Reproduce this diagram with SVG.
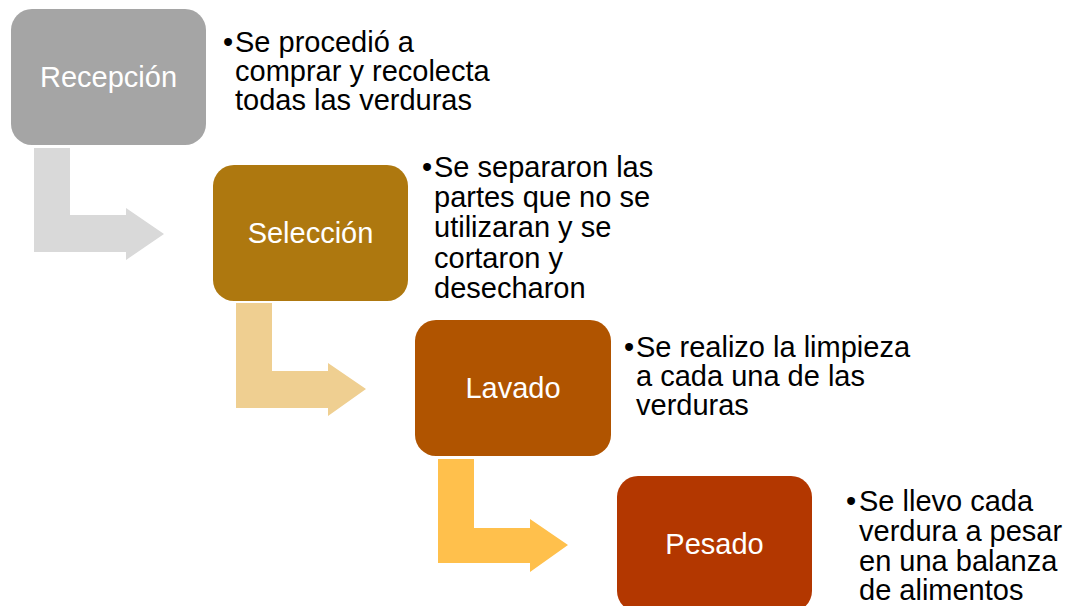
<svg xmlns="http://www.w3.org/2000/svg" width="1071" height="606" viewBox="0 0 1071 606">
  <style>
    .box { stroke: none; }
    .lbl { font-family: "Liberation Sans", Arial, sans-serif; font-size: 29px; fill: #ffffff; text-anchor: middle; }
    .txt { font-family: "Liberation Sans", Arial, sans-serif; font-size: 29px; fill: #000000; }
  </style>
  <rect width="1071" height="606" fill="#ffffff"/>
  <g id="connectors">
    <path d="M34,148 L70,148 L70,215 L126,215 L126,208 L164,234 L126,260 L126,252 L34,252 Z" fill="#d9d9d9"/>
    <path d="M236,303 L272,303 L272,371 L328,371 L328,363 L366,389 L328,416 L328,408 L236,408 Z" fill="#efcf91"/>
    <path d="M438,459 L474,459 L474,528 L530,528 L530,519 L568,545 L530,572 L530,563 L438,563 Z" fill="#ffc04c"/>
  </g>
  <g id="node-recepcion">
    <rect class="box" x="11" y="9" width="195" height="136" rx="21" fill="#a5a5a5"/>
    <text class="lbl" x="108.5" y="87">Recepción</text>
  </g>
  <g id="text-recepcion">
    <text class="txt" x="223" y="52">•</text>
    <text class="txt" x="235"><tspan x="235" y="52">Se procedió a</tspan><tspan x="235" y="81">comprar y recolecta</tspan><tspan x="235" y="110">todas las verduras</tspan></text>
  </g>
  <g id="node-seleccion">
    <rect class="box" x="213" y="165" width="195" height="136" rx="21" fill="#ae780f"/>
    <text class="lbl" x="310.5" y="242.5">Selección</text>
  </g>
  <g id="text-seleccion">
    <text class="txt" x="422" y="177">•</text>
    <text class="txt" x="434"><tspan x="434" y="177">Se separaron las</tspan><tspan x="434" y="207">partes que no se</tspan><tspan x="434" y="237">utilizaran y se</tspan><tspan x="434" y="267.5">cortaron y</tspan><tspan x="434" y="298">desecharon</tspan></text>
  </g>
  <g id="node-lavado">
    <rect class="box" x="415" y="320" width="196" height="136" rx="21" fill="#b05400"/>
    <text class="lbl" x="513" y="398">Lavado</text>
  </g>
  <g id="text-lavado">
    <text class="txt" x="624" y="357">•</text>
    <text class="txt" x="636"><tspan x="636" y="357">Se realizo la limpieza</tspan><tspan x="636" y="386">a cada una de las</tspan><tspan x="636" y="415">verduras</tspan></text>
  </g>
  <g id="node-pesado">
    <rect class="box" x="617" y="476" width="195" height="136" rx="21" fill="#b33700"/>
    <text class="lbl" x="714.5" y="554">Pesado</text>
  </g>
  <g id="text-pesado">
    <text class="txt" x="846" y="511">•</text>
    <text class="txt" x="859"><tspan x="859" y="511">Se llevo cada</tspan><tspan x="859" y="541">verdura a pesar</tspan><tspan x="859" y="570.5">en una balanza</tspan><tspan x="859" y="600">de alimentos</tspan></text>
  </g>
</svg>
